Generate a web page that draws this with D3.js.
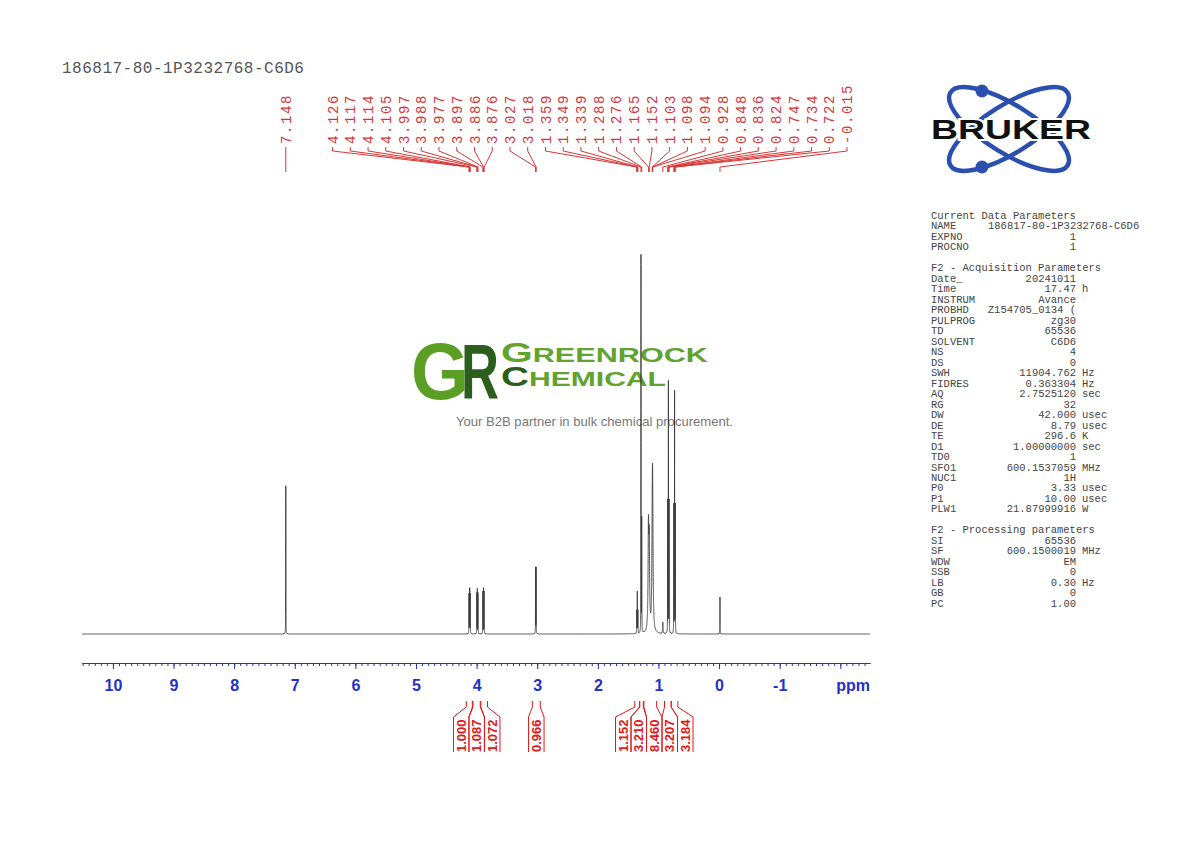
<!DOCTYPE html>
<html>
<head>
<meta charset="utf-8">
<script src="https://cdn.jsdelivr.net/npm/d3@7"></script>
<style>
  body { margin: 0; background: #fff; }
  svg { display: block; }
</style>
</head>
<body>
<div id="chart"></div>
<script>
// Peak list (ppm, height with tallest = 100, half width in ppm)
const peakPpm = [7.148, 4.126, 4.117, 4.114, 4.105, 3.997, 3.988, 3.977, 3.897, 3.886, 3.876,
  3.027, 3.018, 1.359, 1.349, 1.339, 1.288, 1.276, 1.165, 1.152, 1.103, 1.098, 1.094,
  0.928, 0.848, 0.836, 0.824, 0.747, 0.734, 0.722, -0.015];
const peakHeight = [39.3, 10.5, 10.5, 10.5, 10.5, 10.8, 11.8, 10.8, 11.2, 12.0, 11.2,
  17.5, 17.5, 6, 11, 6, 100, 30, 26, 22, 16, 22, 16,
  3, 35, 66.5, 35, 34, 64, 34, 9.8];
const peakWidth = [0.0012, 0.0012, 0.0012, 0.0012, 0.0012, 0.0012, 0.0012, 0.0012, 0.0012, 0.0012, 0.0012,
  0.0012, 0.0012, 0.0015, 0.0015, 0.0015, 0.0012, 0.0015, 0.007, 0.007, 0.007, 0.007, 0.007,
  0.004, 0.0012, 0.0012, 0.0012, 0.0012, 0.0012, 0.0012, 0.0012];

// Integrals (region limits in ppm and values)
const integralFrom = [4.17, 4.06, 3.93, 3.08, 1.39, 1.31, 1.24, 0.90, 0.79];
const integralTo = [4.07, 3.94, 3.82, 2.95, 1.31, 1.25, 1.03, 0.79, 0.68];
const integralValues = ["1.000", "1.087", "1.072", "0.966", "1.152", "3.210", "8.460", "3.207", "3.184"];

// Axis ticks
const majorTicks = [10, 9, 8, 7, 6, 5, 4, 3, 2, 1, 0, -1, -2];
const minorTicks = d3.range(-24, 106).map(i => i / 10);

// Parameter table
const paramNames = ["Current Data Parameters", "NAME", "EXPNO", "PROCNO", "",
  "F2 - Acquisition Parameters", "Date_", "Time", "INSTRUM", "PROBHD", "PULPROG", "TD", "SOLVENT",
  "NS", "DS", "SWH", "FIDRES", "AQ", "RG", "DW", "DE", "TE", "D1", "TD0", "SFO1", "NUC1", "P0", "P1", "PLW1", "",
  "F2 - Processing parameters", "SI", "SF", "WDW", "SSB", "LB", "GB", "PC"];
const paramValues = ["", "186817-80-1P3232768-C6D6", "1", "1", "",
  "", "20241011", "17.47", "Avance", "Z154705_0134 (", "zg30", "65536", "C6D6",
  "4", "0", "11904.762", "0.363304", "2.7525120", "32", "42.000", "8.79", "296.6", "1.00000000", "1", "600.1537059", "1H", "3.33", "10.00", "21.87999916", "",
  "", "65536", "600.1500019", "EM", "0", "0.30", "0", "1.00"];
const paramUnits = ["", "", "", "", "",
  "", "", "h", "", "", "", "", "",
  "", "", "Hz", "Hz", "sec", "", "usec", "usec", "K", "sec", "", "MHz", "", "usec", "usec", "W", "",
  "", "", "MHz", "", "", "Hz", "", ""];

const W = 1190, H = 842;
const svg = d3.select("#chart").append("svg")
  .attr("width", W).attr("height", H)
  .style("background", "#fff");

const x = d3.scaleLinear().domain([10.51, -2.49]).range([82, 870]);
const y = d3.scaleLinear().domain([0, 100]).range([634, 257]);

const mono = "'Liberation Mono', 'DejaVu Sans Mono', monospace";
const sans = "'Liberation Sans', Arial, sans-serif";

// Title
svg.append("text")
  .attr("x", 62).attr("y", 73)
  .attr("font-family", mono).attr("font-size", 16)
  .attr("letter-spacing", 0.5)
  .attr("fill", "#555")
  .text("186817-80-1P3232768-C6D6");

// Greenrock watermark logo
const logo = svg.append("g");
logo.append("text").attr("x", 411).attr("y", 399)
  .attr("font-family", sans).attr("font-weight", "bold").attr("font-size", 79)
  .attr("textLength", 58).attr("lengthAdjust", "spacingAndGlyphs")
  .attr("fill", "#5a9e24").text("G");
logo.append("text").attr("x", 461).attr("y", 398)
  .attr("font-family", sans).attr("font-weight", "bold").attr("font-size", 77)
  .attr("textLength", 38).attr("lengthAdjust", "spacingAndGlyphs")
  .attr("fill", "#2c5e1c").text("R");
const t1 = logo.append("text").attr("x", 501).attr("y", 362)
  .attr("font-family", sans).attr("font-weight", "bold").attr("fill", "#62a22e")
  .attr("textLength", 207).attr("lengthAdjust", "spacingAndGlyphs");
t1.append("tspan").attr("font-size", 28).text("G");
t1.append("tspan").attr("font-size", 21).text("REENROCK");
const t2 = logo.append("text").attr("x", 501).attr("y", 386)
  .attr("font-family", sans).attr("font-weight", "bold").attr("fill", "#62a22e")
  .attr("textLength", 165).attr("lengthAdjust", "spacingAndGlyphs");
t2.append("tspan").attr("font-size", 27).attr("fill", "#2c5e1c").text("C");
t2.append("tspan").attr("font-size", 21).text("HEMICAL");
logo.append("text").attr("x", 456).attr("y", 426)
  .attr("font-family", sans).attr("font-size", 13).attr("fill", "#777")
  .attr("textLength", 277).attr("lengthAdjust", "spacingAndGlyphs")
  .text("Your B2B partner in bulk chemical procurement.");

// Bruker logo
const bruker = svg.append("g").attr("transform", "translate(1009,129)");
[32, -32].forEach(a => {
  bruker.append("ellipse")
    .attr("rx", 69).attr("ry", 24)
    .attr("transform", `rotate(${a})`)
    .attr("fill", "none").attr("stroke", "#2b4fae").attr("stroke-width", 4.5);
});
bruker.append("circle").attr("cx", -27).attr("cy", -38).attr("r", 6.5).attr("fill", "#2b4fae");
bruker.append("circle").attr("cx", -27).attr("cy", 38).attr("r", 6.5).attr("fill", "#2b4fae");
bruker.append("text")
  .attr("x", -78).attr("y", 10)
  .attr("font-family", sans).attr("font-weight", 900).attr("font-size", 27)
  .attr("textLength", 160).attr("lengthAdjust", "spacingAndGlyphs")
  .attr("fill", "#111").attr("stroke", "#fff").attr("stroke-width", 4)
  .attr("paint-order", "stroke")
  .text("BRUKER");

// Spectrum: sum of Lorentzian lines from the peak list
function intensity(p) {
  let s = 0;
  for (let i = 0; i < peakPpm.length; i++) {
    const d = (p - peakPpm[i]) / peakWidth[i];
    s += peakHeight[i] / (1 + d * d);
  }
  return s;
}
let pts = d3.range(10.51, -2.49, -0.004);
peakPpm.forEach(c => {
  pts = pts.concat(d3.range(c + 0.04, c - 0.04, -0.0002));
  pts.push(c);
});
pts = Array.from(new Set(pts.map(p => +p.toFixed(5)))).sort((a, b) => b - a);
const spectrum = pts.map(p => [p, intensity(p)]);

svg.append("path")
  .datum(spectrum)
  .attr("fill", "none")
  .attr("stroke", "#3a3a3a")
  .attr("stroke-width", 0.9)
  .attr("d", d3.line().x(d => x(d[0])).y(d => y(d[1])));

// Label spreading: keep label centres as close as possible to their targets
function spread(centers, gap) {
  const blocks = [];
  centers.forEach((c, i) => {
    blocks.push({ sum: c, n: 1, idx: [i] });
    while (blocks.length > 1) {
      const a = blocks[blocks.length - 2], b = blocks[blocks.length - 1];
      const aEnd = a.sum / a.n + (a.n - 1) / 2 * gap;
      const bStart = b.sum / b.n - (b.n - 1) / 2 * gap;
      if (bStart - aEnd < gap) {
        blocks.splice(blocks.length - 2, 2, { sum: a.sum + b.sum, n: a.n + b.n, idx: a.idx.concat(b.idx) });
      } else break;
    }
  });
  const pos = new Array(centers.length);
  blocks.forEach(b => {
    const m = b.sum / b.n;
    b.idx.forEach((i, k) => { pos[i] = m + (k - (b.n - 1) / 2) * gap; });
  });
  return pos;
}

// Peak labels at the top
const red = "#d93535";
const peakX = peakPpm.map(p => x(p));
const labelX = spread(peakX, 17.74);
const peakLabels = svg.append("g");
peakLabels.selectAll("path.conn")
  .data(peakPpm)
  .join("path")
  .attr("class", "conn")
  .attr("fill", "none").attr("stroke", red).attr("stroke-width", 1)
  .attr("d", (d, i) => `M${labelX[i]},147L${labelX[i]},151L${peakX[i]},167L${peakX[i]},172`);
peakLabels.selectAll("text")
  .data(peakPpm)
  .join("text")
  .attr("transform", (d, i) => `translate(${labelX[i]},144) rotate(-90)`)
  .attr("dy", "0.36em")
  .attr("font-family", mono).attr("font-size", 14).attr("letter-spacing", 1.6)
  .attr("fill", red)
  .text(d => d.toFixed(3));

// Integrals at the bottom
const intRed = "#e01818";
const intCenter = integralFrom.map((f, i) => (x(f) + x(integralTo[i])) / 2);
const intX = spread(intCenter, 15.5);
const ig = svg.append("g");
integralFrom.forEach((f, i) => {
  const x1 = x(f), x2 = x(integralTo[i]), lx = intX[i];
  ig.append("path")
    .attr("fill", "none").attr("stroke", intRed).attr("stroke-width", 1)
    .attr("d", `M${x1},701L${x1},707L${lx - 7.75},717L${lx - 7.75},752` +
      `M${x2},701L${x2},707L${lx + 7.75},717L${lx + 7.75},752`);
  ig.append("text")
    .attr("transform", `translate(${lx},752) rotate(-90)`)
    .attr("dy", "0.36em")
    .attr("font-family", sans).attr("font-weight", "bold").attr("font-size", 13)
    .attr("fill", intRed)
    .text(integralValues[i]);
});

// ppm axis
const blue = "#2131c9";
const axisY = 663;
const minorAxis = svg.append("g")
  .attr("transform", `translate(0,${axisY})`)
  .call(d3.axisBottom(x).tickValues(minorTicks).tickSize(3).tickSizeOuter(0).tickFormat(""));
const majorAxis = svg.append("g")
  .attr("transform", `translate(0,${axisY})`)
  .call(d3.axisBottom(x).tickValues(majorTicks).tickSize(6).tickSizeOuter(0).tickPadding(11)
    .tickFormat(d => d === -2 ? "" : String(d)));
[minorAxis, majorAxis].forEach(g => {
  g.select(".domain").attr("stroke", blue).attr("stroke-width", 1.2);
  g.selectAll(".tick line").attr("stroke", blue);
});
majorAxis.selectAll(".tick text")
  .attr("fill", blue)
  .attr("font-family", sans).attr("font-weight", "bold").attr("font-size", 16);
svg.append("text")
  .attr("x", x(-2.21)).attr("y", axisY + 17).attr("dy", "0.71em")
  .attr("text-anchor", "middle")
  .attr("font-family", sans).attr("font-weight", "bold").attr("font-size", 16)
  .attr("fill", blue)
  .text("ppm");

// Acquisition / processing parameter block
const pg = svg.append("g")
  .attr("font-family", mono).attr("font-size", 10.5).attr("fill", "#444");
paramNames.forEach((name, i) => {
  const yy = 219 + i * 10.48;
  if (name) pg.append("text").attr("x", 931).attr("y", yy).text(name);
  if (paramValues[i]) {
    if (name === "NAME") {
      pg.append("text").attr("x", 988).attr("y", yy).text(paramValues[i]);
    } else {
      pg.append("text").attr("x", 1076).attr("y", yy).attr("text-anchor", "end")
        .attr("xml:space", "preserve").text(paramValues[i]);
    }
  }
  if (paramUnits[i]) pg.append("text").attr("x", 1082).attr("y", yy).text(paramUnits[i]);
});
</script>
</body>
</html>
